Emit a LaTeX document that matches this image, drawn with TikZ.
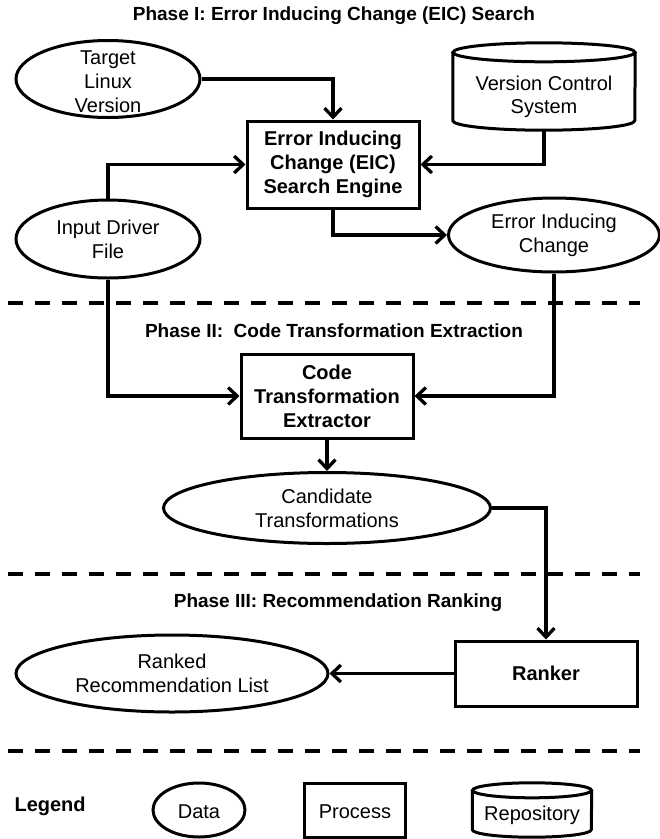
\documentclass[tikz,border=0pt]{standalone}
\usepackage{fontspec}
\setmainfont{Liberation Sans}
\usetikzlibrary{shapes.geometric,arrows.meta}

\tikzset{
  data/.style={ellipse, draw, line width=3pt, inner sep=0pt, align=center,
    font=\fontsize{20}{24}\selectfont},
  process/.style={rectangle, draw, line width=3pt, inner sep=0pt, align=center,
    font=\fontsize{20}{24}\selectfont\bfseries},
  repo/.style={rectangle, inner sep=0pt, align=center,
    font=\fontsize{20}{23}\selectfont},
  phase/.style={font=\fontsize{19}{22}\selectfont\bfseries},
  flow/.style={line width=3.3pt, -{Straight Barb[length=9pt,width=17pt,line width=3.3pt]}},
  divider/.style={line width=4pt, dash pattern=on 15pt off 12pt}
}

\begin{document}
\begin{tikzpicture}[x=1pt,y=-1pt]
  \useasboundingbox (0,0) rectangle (660,839);
  % phase dividers
  \foreach \yy in {303,574,751}
   {
    \draw[divider] (8,\yy) -- (640,\yy);
   }
  % phase titles
  \node[phase] (ph1) at (334,16) {Phase I: Error Inducing Change (EIC) Search};
  \node[phase] (ph2) at (334,331) {Phase II:\ \ Code Transformation Extraction};
  \node[phase] (ph3) at (338,603) {Phase III: Recommendation Ranking};

  % Phase I
  \node[data, minimum width=184pt, minimum height=77pt, inner sep=-12pt]
    (tlv) at (108,79) {\rule{0pt}{20pt}Target\\Linux\\Version};
  \node[repo, minimum width=182pt, minimum height=87pt]
    (vcs) at (544,86.5) {\rule{0pt}{36pt}Version Control\\System};
  \node[process, minimum width=172pt, minimum height=87pt]
    (eic) at (333,164.5) {Error Inducing\\Change (EIC)\\Search Engine};
  \node[data, minimum width=184pt, minimum height=78pt]
    (idf) at (108,239) {Input Driver\\File};
  \node[data, minimum width=211pt, minimum height=74pt]
    (eicg) at (554,235) {Error Inducing\\Change};

  % Phase II
  \node[process, minimum width=172pt, minimum height=84pt]
    (cte) at (327,396) {Code\\Transformation\\Extractor};
  \node[data, minimum width=327pt, minimum height=71pt]
    (cand) at (327,508) {Candidate\\Transformations};

  % Phase III
  \node[process, minimum width=182pt, minimum height=65pt]
    (rank) at (546,673.5) {Ranker};
  \node[data, minimum width=312pt, minimum height=77pt]
    (rrl) at (172,673.5) {Ranked\\Recommendation List};

  % legend
  \node[font=\fontsize{20}{24}\selectfont\bfseries, anchor=west]
    (leg) at (11,806) {Legend};
  \node[data, minimum width=92pt, minimum height=54pt] (lgdata) at (199,810)
    {\rule{0pt}{18pt}Data};
  \node[draw, line width=3pt, minimum width=101pt, minimum height=54pt,
    inner sep=0pt, font=\fontsize{20}{24}\selectfont] (lgproc) at (355,810)
    {\rule{0pt}{18pt}Process};
  \node[repo, minimum width=119pt, minimum height=54pt] (lgrepo) at (532,810)
    {\rule{0pt}{26pt}Repository};

  % repository outlines
  \foreach \nm/\rx/\ry in {vcs/91/9.5, lgrepo/59.5/7.5}
   {
    \draw[line width=3pt] ([yshift=-\ry pt]\nm.north)
      ellipse [x radius=\rx pt, y radius=\ry pt];
    \draw[line width=3pt, line join=round]
      ([yshift=-\ry pt]\nm.north west) -- ([yshift=\ry pt]\nm.south west)
      arc [start angle=180, end angle=360, x radius=\rx pt, y radius=\ry pt]
      -- ([yshift=-\ry pt]\nm.north east);
   }

  % flows
  \draw[flow] (tlv.east) -| (eic.north);
  \draw[flow] (vcs.south) |- (eic.east);
  \draw[flow] (idf.north) |- (eic.west);
  \draw[flow] (eic.south) |- (eicg.west);
  \draw[flow] (idf.south) |- (cte.west);
  \draw[flow] (eicg.south) |- (cte.east);
  \draw[flow] (cte.south) -- (cand.north);
  \draw[flow] (cand.east) -| (rank.north);
  \draw[flow] (rank.west) -- (rrl.east);
\end{tikzpicture}
\end{document}
